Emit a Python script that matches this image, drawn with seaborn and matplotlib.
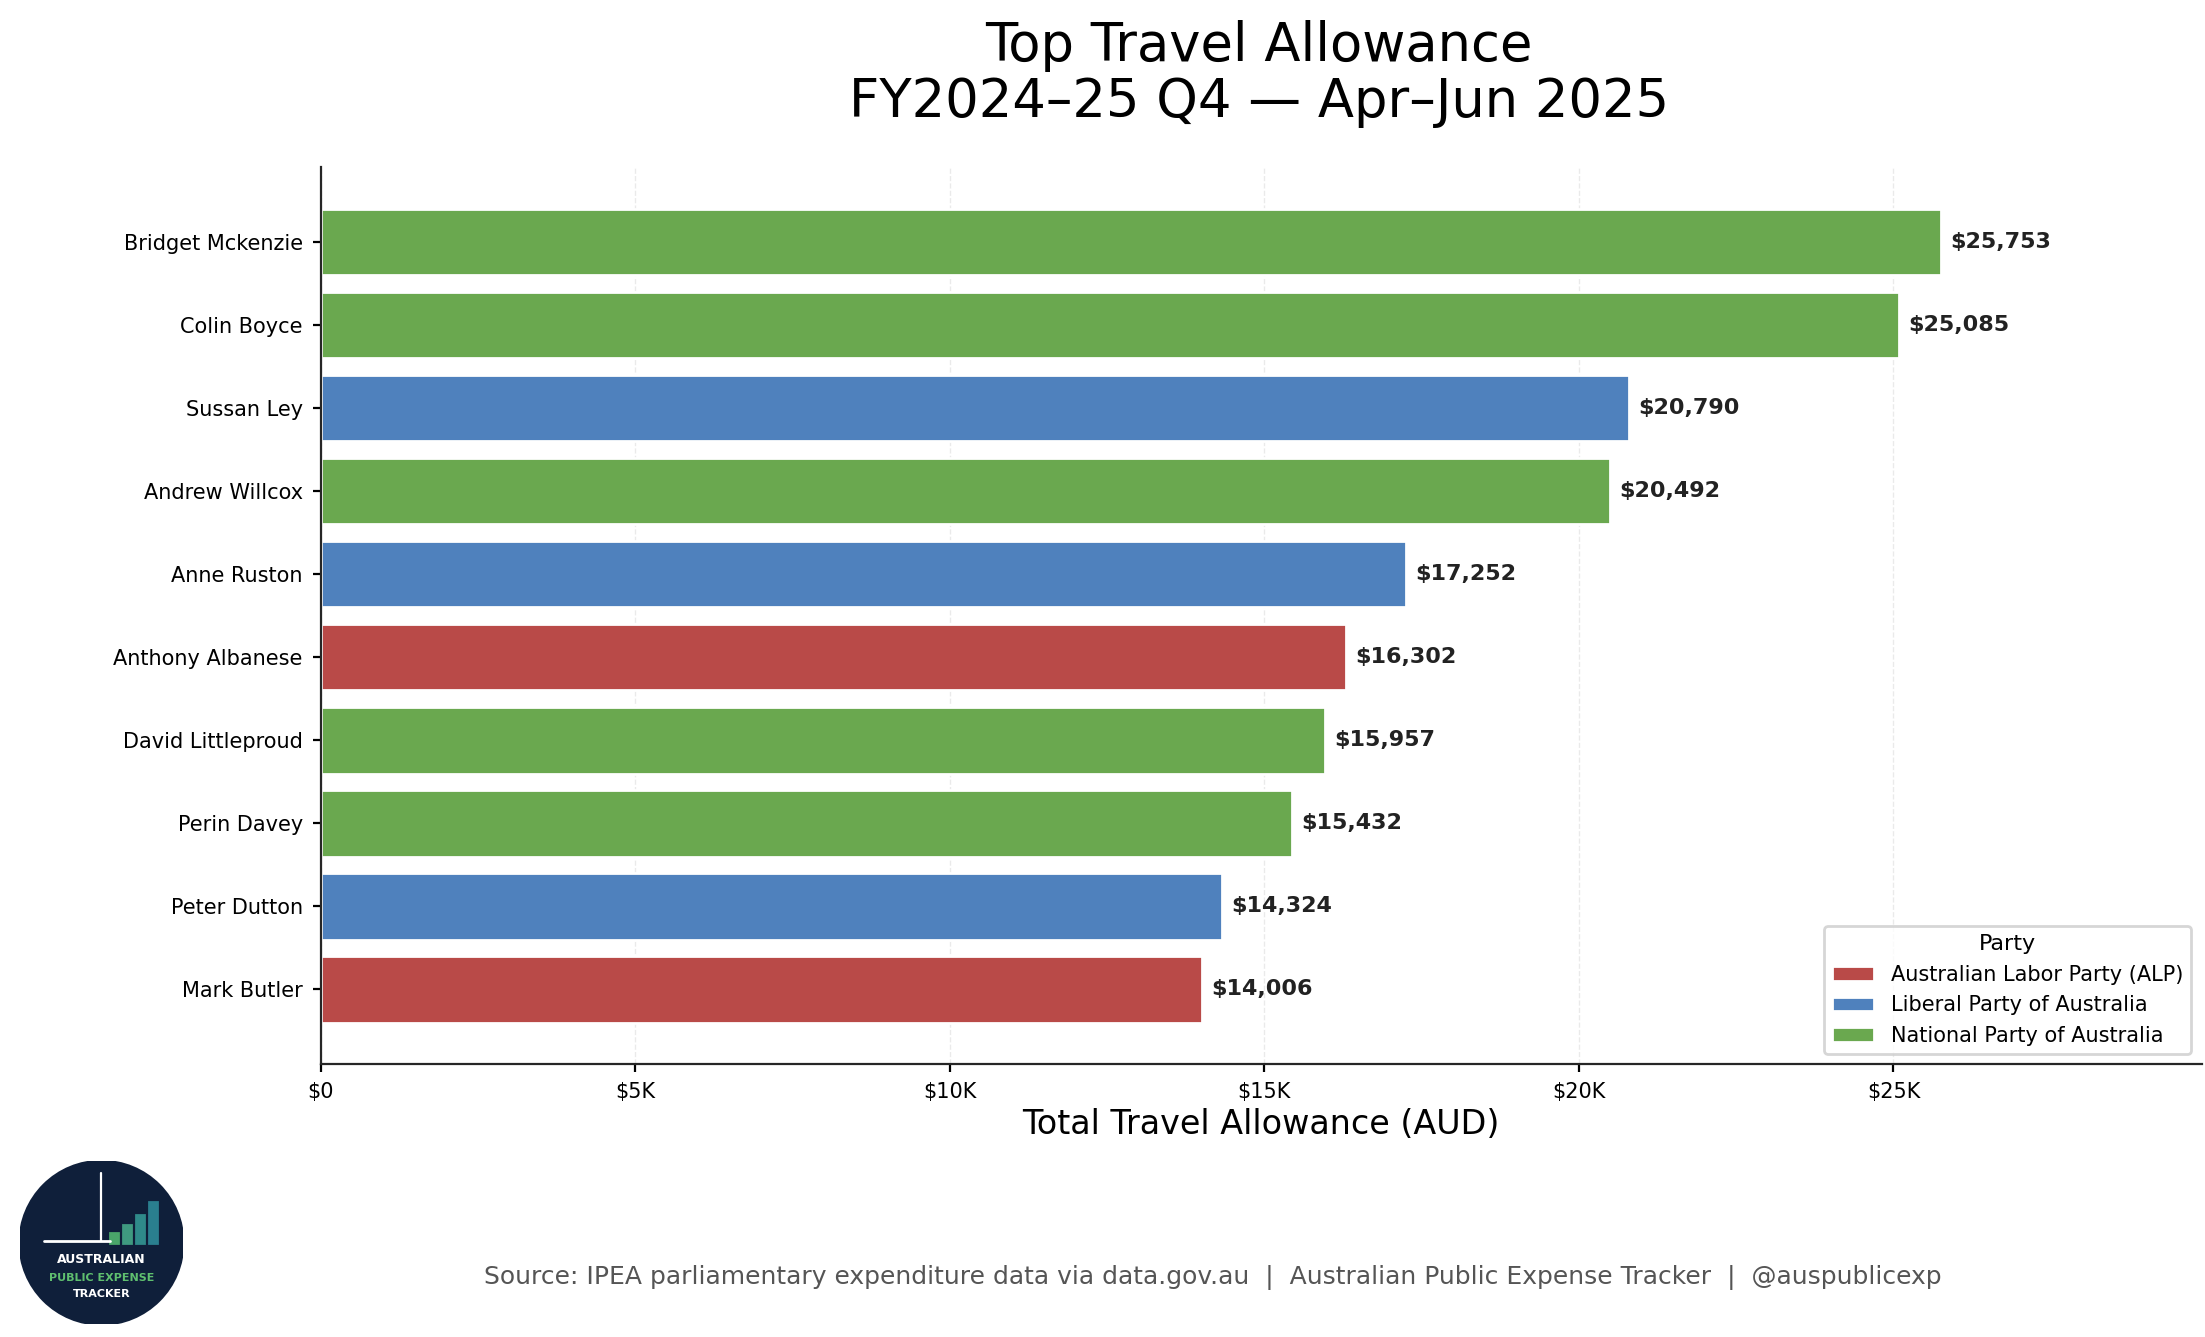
import matplotlib
matplotlib.use("Agg")
import matplotlib.pyplot as plt
import seaborn as sns
import pandas as pd
from matplotlib.ticker import FuncFormatter
from matplotlib.patches import Circle, Rectangle

names = ["Bridget Mckenzie", "Colin Boyce", "Sussan Ley", "Andrew Willcox", "Anne Ruston",
         "Anthony Albanese", "David Littleproud", "Perin Davey", "Peter Dutton", "Mark Butler"]
amounts = [25753, 25085, 20790, 20492, 17252, 16302, 15957, 15432, 14324, 14006]
parties = ["National Party of Australia", "National Party of Australia", "Liberal Party of Australia",
           "National Party of Australia", "Liberal Party of Australia", "Australian Labor Party (ALP)",
           "National Party of Australia", "National Party of Australia", "Liberal Party of Australia",
           "Australian Labor Party (ALP)"]
party_order = ["Australian Labor Party (ALP)", "Liberal Party of Australia", "National Party of Australia"]
colors = {"Australian Labor Party (ALP)": "#b94a48",
          "Liberal Party of Australia": "#4f81bd",
          "National Party of Australia": "#6aa84f"}

df = pd.DataFrame({"name": names, "amount": amounts, "party": parties})

sns.set_style("white")
plt.rcParams['font.family'] = ['DejaVu Sans']
plt.rcParams['text.color'] = 'black'
plt.rcParams['xtick.color'] = 'black'
plt.rcParams['ytick.color'] = 'black'
plt.rcParams['axes.labelcolor'] = 'black'
fig = plt.figure(figsize=(11.025, 6.685), dpi=200)
ax = fig.add_axes([0.1455, 0.204, 0.853, 0.671])

sns.barplot(data=df, x="amount", y="name", hue="party", hue_order=party_order,
            palette=colors, dodge=False, width=0.8, ax=ax, saturation=1)

for i, v in enumerate(amounts):
    ax.text(v + 150, i, f"${v:,}", va="center", ha="left", fontsize=8, fontweight="bold", color="#222222")

ax.set_xlim(0, 29900)
ax.set_ylim(9.9, -0.9)
ax.set_xticks([0, 5000, 10000, 15000, 20000, 25000])
ax.xaxis.set_major_formatter(FuncFormatter(lambda x, p: "$0" if x == 0 else f"${int(x/1000)}K"))
ax.tick_params(axis="both", labelsize=7.5, length=3, left=True, bottom=True)
ax.grid(axis="x", linestyle="--", alpha=0.4, linewidth=0.5)
ax.set_axisbelow(True)
sns.despine(ax=ax)
ax.set_ylabel("")
ax.set_xlabel("Total Travel Allowance (AUD)", fontsize=12, labelpad=2)

leg = ax.legend(title="Party", loc="lower right", fontsize=7.5, title_fontsize=8, frameon=True)
leg.get_frame().set_edgecolor("#cccccc")

fig.text(0.571, 0.985, "Top Travel Allowance\nFY2024–25 Q4 — Apr–Jun 2025", fontsize=19,
         ha="center", va="top", linespacing=1.1)
fig.text(0.55, 0.040, "Source: IPEA parliamentary expenditure data via data.gov.au  |  Australian Public Expense Tracker  |  @auspublicexp",
         ha="center", fontsize=9, color="#555555")

# logo
lax = fig.add_axes([0.009, 0.009, 0.074, 0.123])
lax.set_aspect("equal")
lax.axis("off")
lax.set_xlim(-1, 1)
lax.set_ylim(-1, 1)
lax.add_patch(Circle((0, 0), 1, color="#0f1f3a"))
for k, h in enumerate([0.12, 0.22, 0.34, 0.5]):
    lax.add_patch(Rectangle((0.1 + k * 0.16, 0.0), 0.1, h, color=["#4aa56a", "#3f9a80", "#2f8a8a", "#2a7f8f"][k]))
lax.plot([-0.7, 0.1], [0.02, 0.02], color="white", lw=1)
lax.plot([0, 0], [0.02, 0.85], color="white", lw=0.8)
lax.text(0, -0.25, "AUSTRALIAN", color="white", fontsize=4.5, ha="center", fontweight="bold")
lax.text(0, -0.47, "PUBLIC EXPENSE", color="#5fbf6f", fontsize=4, ha="center", fontweight="bold")
lax.text(0, -0.67, "TRACKER", color="white", fontsize=4, ha="center", fontweight="bold")

fig.savefig("out.png", dpi=200)
